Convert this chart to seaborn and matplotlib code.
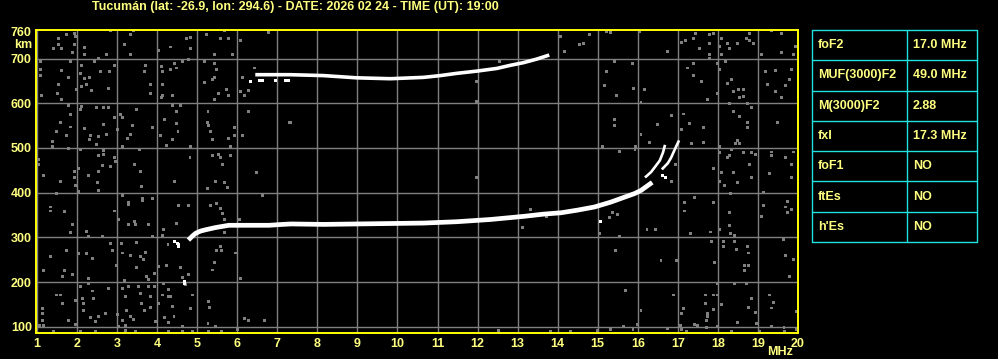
import numpy as np
import pandas as pd
import matplotlib
matplotlib.use("Agg")
import matplotlib.pyplot as plt
from matplotlib.lines import Line2D
import seaborn as sns

# ---------------- data ----------------
title = "Tucumán (lat: -26.9, lon: 294.6) - DATE: 2026 02 24 - TIME (UT): 19:00"
freq_ticks = list(range(1, 21))
height_ticks = [100, 200, 300, 400, 500, 600, 700, 760]

param_names = ["foF2", "MUF(3000)F2", "M(3000)F2", "fxI", "foF1", "ftEs", "h'Es"]
param_values = ["17.0 MHz", "49.0 MHz", "2.88", "17.3 MHz", "NO", "NO", "NO"]

# main F2 trace (ordinary)
o_freq = [4.78, 4.88, 4.96, 5.08, 5.21, 5.46, 5.79, 6.13, 6.46, 6.79, 7.13, 7.35, 8.15, 8.98,
          9.82, 10.65, 11.48, 12.32, 13.15, 13.65, 14.08, 14.5, 14.92, 15.33, 15.67, 15.92,
          16.08, 16.25, 16.36]
o_height = [294, 303, 309, 314, 317, 322, 327, 327, 327, 327, 329, 330, 329, 330,
            331, 332, 335, 340, 347, 352, 355, 361, 368, 379, 390, 398,
            405, 416, 423]
# cusp branches near the critical frequency
branch_a_freq = [16.18, 16.33, 16.45, 16.55, 16.63, 16.68]
branch_a_height = [434, 446, 460, 472, 490, 507]
branch_b_freq = [16.60, 16.75, 16.83, 16.94, 17.03]
branch_b_height = [452, 466, 478, 500, 517]
# second hop trace
hop_freq = [6.45, 6.8, 7.13, 7.32, 8.15, 8.98, 9.82, 10.65, 11.07, 11.48, 11.98, 12.48,
            12.82, 13.15, 13.48, 13.79]
hop_height = [664, 664, 664, 664, 662, 657, 655, 658, 662, 667, 672, 678,
              685, 691, 699, 708]
# loose bright echo fragments
frag_freq = [4.44, 4.50, 4.54, 4.53, 4.68, 4.69, 6.33, 6.55, 6.62, 6.95, 7.20, 7.28, 15.08, 16.62, 16.70]
frag_height = [290, 287, 285, 279, 202, 197, 649, 651, 650, 652, 650, 651, 335, 438, 433]

# background interference dots
noise_freq = [
    1.53, 1.73, 1.94, 1.96, 1.42, 1.54, 1.61, 1.88, 1.94, 2.18, 2.18, 2.53, 2.73, 2.83, 3.18, 3.33, 3.40, 3.33, 4.03, 4.33,
    4.73, 4.83, 4.83, 5.23, 5.43, 5.58, 5.68, 5.78, 5.87, 6.08, 6.78,
    1.08, 1.08, 1.08, 1.62, 1.83, 1.54, 1.78, 1.12, 1.52, 1.62, 1.98, 2.12, 2.08, 2.18, 2.32, 2.23, 2.12, 2.37, 2.43, 2.58,
    2.81, 2.78, 2.94, 3.71, 3.68, 3.83, 3.83, 4.11, 4.13, 4.13, 4.11, 4.13, 4.33, 4.38, 4.43, 4.48, 4.63, 4.78, 5.18, 5.18,
    5.43, 5.48, 5.43, 5.38, 5.52, 5.43, 5.73, 5.77, 6.13, 6.08, 6.27, 6.19, 6.43,
    1.79, 1.83, 1.58, 1.83, 1.48, 1.73, 1.38, 1.38, 2.12, 2.08, 2.48, 2.67, 2.67, 2.78, 2.94, 2.18, 2.33, 2.32, 2.53, 2.73,
    2.48, 3.08, 3.14, 3.38, 3.48, 3.02, 3.33, 3.27, 3.13, 3.88, 4.19, 4.38, 4.48, 4.48, 4.52, 4.08, 4.38, 4.23, 4.58, 5.27,
    5.25, 5.29, 5.33, 5.38, 5.77, 5.93, 5.93, 5.83, 6.27, 6.13, 7.33,
    1.03, 1.03, 1.17, 1.78, 2.03, 1.94, 1.94, 2.08, 2.29, 2.53, 2.53, 2.67, 2.67, 2.63, 2.83, 2.93, 2.97, 3.43, 3.57, 3.58,
    4.82, 4.83, 5.38, 5.53, 5.58, 5.63, 5.83, 6.48,
    1.58, 1.96, 2.50, 2.54, 2.03, 3.61, 4.44, 5.25, 5.46, 5.69, 5.75, 6.63, 1.48, 1.33, 1.33, 1.69, 3.13, 3.28, 3.28, 3.63,
    3.63, 3.88, 2.93, 3.03, 3.44, 3.46, 3.28, 3.78, 3.88, 4.17, 4.13, 4.54, 4.79, 5.33, 5.48, 5.58, 5.64, 5.69, 5.67, 6.05,
    4.48, 1.88, 1.83, 2.23, 2.29, 2.63, 2.83, 1.00,
    1.33, 1.73, 2.03, 2.23, 2.38, 2.88, 2.98, 3.10, 3.14, 3.33, 3.48, 3.58, 3.67, 3.71, 4.04, 4.23, 4.27, 4.58, 4.78, 4.63,
    4.71, 5.38, 5.44, 5.48, 5.60, 5.58, 5.96, 6.08, 1.17, 1.63, 1.69, 1.88, 2.28, 2.28, 3.19, 3.48, 3.73, 3.78, 3.79, 3.94,
    2.08, 2.38, 2.79, 3.13, 3.29, 3.54, 3.58, 3.94, 4.17, 4.29, 4.33, 4.13, 4.88, 1.48, 1.58, 1.63, 2.13, 2.42, 2.15, 2.15,
    1.96, 3.21, 3.23, 3.61, 3.69, 3.83, 3.83, 4.04, 4.28, 4.38, 4.83, 1.13, 1.13, 1.13, 1.17, 1.07, 1.78, 1.96, 2.33, 2.46,
    2.54, 2.71, 3.00, 3.13, 3.33, 3.42, 3.04, 3.21, 3.96, 4.19, 4.28, 4.42, 4.63, 5.29, 5.30, 5.27, 5.46, 6.19, 6.28, 6.67,
    6.00, 5.60, 5.29, 4.88, 4.63, 4.29, 3.46, 3.21, 2.46, 2.08, 1.42, 1.03,
    14.08, 14.54, 14.65, 14.79, 15.23, 15.33, 16.04, 14.17, 15.42, 15.87, 15.23, 15.18, 15.90, 16.17, 15.46, 16.08, 16.73,
    17.08, 17.18, 17.39, 17.44, 17.78, 17.89, 17.54, 17.79, 17.79, 17.78, 18.08, 18.23, 18.29, 18.48, 18.04, 18.08, 18.78,
    18.71, 18.89, 18.80, 19.33, 19.58, 19.93, 19.58, 19.88, 19.08, 17.23, 17.39, 17.39, 17.58, 17.73, 17.98, 18.04, 18.19,
    18.33, 18.23, 18.39, 18.52, 18.64, 18.64, 18.54, 17.98, 18.73, 19.19, 19.44, 19.79, 19.83, 19.68, 19.43, 19.58, 19.23,
    18.29, 18.83,
    15.43, 15.43, 16.08, 16.50, 16.83, 17.15, 17.29, 17.08, 17.64, 16.29, 17.33, 17.65, 18.04, 18.39, 18.54, 18.73, 18.73,
    18.43, 18.54, 18.48, 19.48, 15.13, 15.94, 15.93,
    15.54, 18.33, 18.63, 18.83, 18.93, 19.33, 19.33, 19.68, 19.88, 19.83, 18.29, 18.23, 18.04, 18.79, 18.08, 18.39, 18.83,
    19.29, 19.83, 17.89, 16.94, 16.83,
    13.73, 15.04, 15.54, 15.44, 16.23, 16.44, 16.58, 16.83, 16.96, 17.17, 17.17, 17.42, 17.32, 17.81, 17.88, 18.03, 18.17,
    18.48, 18.32, 18.28, 18.28, 18.04, 18.32, 18.42, 18.13, 18.42, 18.13, 17.83, 18.46, 18.75, 18.77, 18.67, 18.77, 18.67,
    19.13, 19.14, 19.08, 19.68, 19.83, 19.73, 19.73, 19.63, 19.69, 19.88, 19.79, 17.92, 17.98, 18.42, 18.71, 15.69, 16.08,
    16.88, 17.13, 17.10, 17.68, 17.68, 17.73, 17.71, 17.88, 17.98, 18.10, 17.88, 18.00, 18.48, 18.83, 18.77, 18.93, 19.39,
    19.29, 19.33, 19.96, 19.65, 19.33, 18.96, 17.42, 17.50, 17.07, 16.75, 17.08, 16.00, 15.65, 15.33, 15.00, 14.33, 13.83,
    15.88, 17.21, 18.33, 19.04, 19.67, 19.96, 17.71, 17.75,
    13.33, 13.13, 12.53, 11.98, 11.97, 7.30, 11.98, 12.54, 15.29, 15.38, 15.50,
]
noise_height = [
    746, 754, 757, 750, 722, 731, 722, 713, 731, 725, 710, 701, 709, 763, 731, 754, 763, 709, 718, 726,
    745, 748, 722, 754, 709, 744, 763, 744, 709, 740, 758,
    693, 675, 662, 673, 693, 643, 657, 617, 621, 608, 631, 684, 666, 655, 657, 643, 638, 628, 693, 672,
    672, 634, 684, 684, 672, 643, 622, 683, 672, 643, 612, 617, 675, 617, 688, 679, 693, 699, 694, 646,
    689, 675, 657, 653, 622, 608, 631, 617, 657, 627, 628, 617, 679,
    595, 575, 558, 547, 537, 527, 515, 504, 592, 586, 590, 590, 552, 590, 569, 543, 527, 518, 526, 530,
    507, 575, 569, 550, 586, 541, 531, 522, 504, 546, 563, 595, 581, 554, 536, 528, 518, 505, 595, 581,
    558, 550, 536, 518, 522, 545, 528, 504, 582, 527, 556,
    475, 463, 438, 498, 455, 448, 434, 496, 438, 484, 447, 494, 485, 461, 459, 478, 470, 463, 496, 447,
    478, 504, 483, 486, 478, 464, 483, 446,
    424, 416, 422, 405, 403, 413, 424, 409, 424, 422, 411, 394, 398, 368, 359, 357, 394, 379, 374, 387,
    382, 387, 359, 340, 335, 328, 328, 329, 301, 317, 305, 372, 372, 372, 376, 364, 353, 340, 310, 340,
    331, 328, 310, 313, 301, 301, 286, 332,
    257, 270, 264, 264, 253, 271, 238, 286, 265, 260, 288, 257, 250, 266, 234, 238, 283, 232, 216, 210,
    195, 227, 243, 271, 271, 279, 265, 207, 225, 212, 225, 216, 208, 197, 204, 233, 212, 206, 191, 219,
    190, 180, 186, 186, 191, 189, 175, 189, 196, 184, 167, 171, 171, 171, 171, 151, 164, 164, 153, 136,
    158, 167, 137, 151, 137, 167, 143, 152, 167, 146, 141, 141, 129, 115, 102, 102, 115, 106, 120, 112,
    123, 130, 127, 115, 123, 117, 101, 103, 112, 121, 109, 123, 101, 156, 143, 107, 101, 119, 115, 115,
    94, 90, 90, 90, 90, 90, 90, 91, 90, 90, 90, 101,
    750, 731, 733, 754, 760, 758, 760, 716, 694, 690, 672, 640, 634, 631, 617, 601, 715,
    735, 740, 746, 757, 754, 757, 722, 733, 709, 700, 746, 733, 722, 734, 728, 709, 757,
    746, 734, 740, 763, 757, 728, 713, 709, 709, 679, 688, 662, 648, 608, 690, 675, 693,
    653, 644, 627, 631, 631, 616, 612, 622, 599, 672, 674, 653, 675, 640, 627, 612, 643,
    599, 590,
    563, 550, 531, 552, 572, 576, 554, 541, 545, 513, 509, 513, 504, 582, 570, 558, 546,
    511, 511, 517, 557, 504, 504, 496,
    493, 496, 489, 489, 485, 491, 483, 479, 491, 464, 484, 478, 489, 464, 446, 446, 433,
    442, 433, 455, 464, 425,
    346, 309, 303, 271, 317, 317, 249, 424, 248, 377, 359, 390, 309, 312, 377, 424, 416,
    422, 398, 355, 327, 317, 309, 305, 291, 291, 279, 290, 273, 279, 265, 238, 238, 225,
    401, 372, 346, 368, 362, 355, 381, 295, 260, 251, 212, 243, 197, 197, 197, 181, 137,
    171, 141, 130, 171, 152, 130, 115, 171, 171, 149, 138, 100, 109, 164, 143, 132, 154,
    171, 142, 134, 98, 100, 107, 106, 102, 102, 97, 93, 106, 101, 93, 92, 90, 90,
    93, 90, 90, 90, 90, 93, 99, 123,
    363, 323, 91, 649, 604, 556, 433, 694, 345, 355, 352,
]

# ---------------- styling ----------------
sns.set_style("dark")
plt.rcParams["font.family"] = ["Liberation Sans", "DejaVu Sans"]
plt.rcParams["font.weight"] = "bold"

TXT = "#FFFF80"
FRAME = "#FFFF00"
GRID = "#808080"
CYAN = "#20E0E0"
FS = 9.0

fig = plt.figure(figsize=(9.98, 3.59), dpi=100, facecolor="black")
ax = fig.add_axes([36 / 998, 1 - 333 / 359, (798 - 36) / 998, (333 - 30) / 359])
ax.set_facecolor("black")

noise_df = pd.DataFrame({"freq": noise_freq, "height": noise_height})
sns.scatterplot(data=noise_df, x="freq", y="height", ax=ax, marker="s", s=4.5,
                color="#808080", edgecolor="none", linewidth=0, zorder=2)

for fx, hx, lw in [(o_freq, o_height, 3.4), (branch_a_freq, branch_a_height, 1.9),
                   (branch_b_freq, branch_b_height, 1.9), (hop_freq, hop_height, 2.6)]:
    d = pd.DataFrame({"freq": fx, "height": hx})
    sns.lineplot(data=d, x="freq", y="height", ax=ax, color="white", linewidth=lw,
                 sort=False, estimator=None, zorder=4, solid_capstyle="butt")

frag_df = pd.DataFrame({"freq": frag_freq, "height": frag_height})
sns.scatterplot(data=frag_df, x="freq", y="height", ax=ax, marker="s", s=5,
                color="white", edgecolor="none", linewidth=0, zorder=4)

ax.set_xlim(0.975, 20.0)
ax.set_ylim(86, 764)
ax.set_xticks(freq_ticks)
ax.set_yticks(height_ticks)
ax.set_xticklabels([str(v) for v in freq_ticks])
ax.set_yticklabels([str(v) for v in height_ticks])
ax.set_xlabel("")
ax.set_ylabel("")
ax.tick_params(axis="both", length=0, colors=TXT, labelsize=FS, pad=3.5)
ax.tick_params(axis="y", pad=3)
for lab in ax.get_xticklabels() + ax.get_yticklabels():
    lab.set_fontweight("bold")
ax.grid(False)
for v in freq_ticks:
    ax.axvline(v, color=GRID, linewidth=1.0, zorder=1)
for v in height_ticks[:-1]:
    ax.axhline(v, color=GRID, linewidth=1.0, zorder=1)
for sp in ax.spines.values():
    sp.set_visible(True)
    sp.set_color(FRAME)
    sp.set_linewidth(1.4)
    sp.set_zorder(5)

# axis unit labels
fig.text(32 / 998, 1 - 45 / 359, "km", color=TXT, fontsize=FS, fontweight="bold",
         ha="right", va="center")
fig.text(780 / 998, 1 - 352 / 359, "MHz", color=TXT, fontsize=FS, fontweight="bold",
         ha="center", va="center")

# title
fig.text(295 / 998, 1 - 7 / 359, title, color=TXT, fontsize=FS, fontweight="bold",
         ha="center", va="center")

# parameter table
tx0, tx1, txm = 812, 977, 907
ty0, ty1 = 30, 242
nrow = len(param_names)
rh = (ty1 - ty0) / nrow
def fx_(x):
    return x / 998
def fy_(y):
    return 1 - y / 359
for i in range(nrow + 1):
    yy = ty0 + i * rh
    fig.add_artist(Line2D([fx_(tx0), fx_(tx1)], [fy_(yy), fy_(yy)], color=CYAN, linewidth=1.0))
for xx in (tx0, txm, tx1):
    fig.add_artist(Line2D([fx_(xx), fx_(xx)], [fy_(ty0), fy_(ty1)], color=CYAN, linewidth=1.0))
for i, (nm, vl) in enumerate(zip(param_names, param_values)):
    yc = ty0 + (i + 0.5) * rh
    fig.text(fx_(818), fy_(yc), nm, color=TXT, fontsize=FS, fontweight="bold", ha="left", va="center")
    fig.text(fx_(913), fy_(yc), vl, color=TXT, fontsize=FS, fontweight="bold", ha="left", va="center")

fig.savefig("out.png", dpi=100, facecolor="black")
